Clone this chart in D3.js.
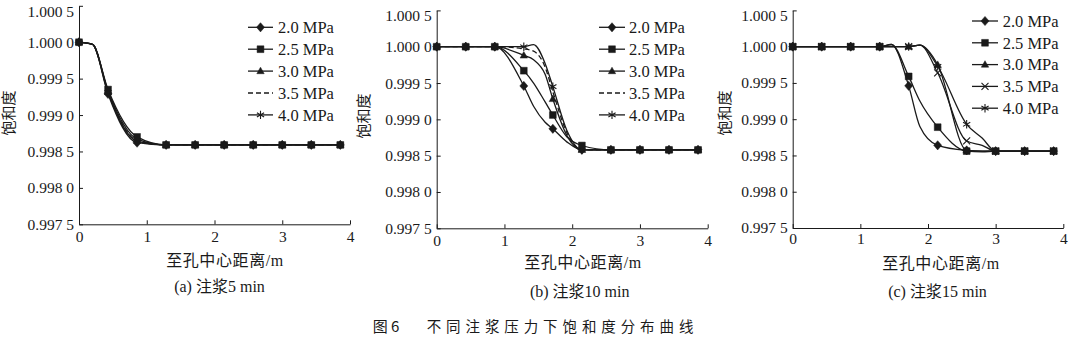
<!DOCTYPE html>
<html><head><meta charset="utf-8">
<script src="https://cdn.jsdelivr.net/npm/d3@7"></script>
<style>
body{margin:0;background:#fff;}
svg{display:block;}
</style></head><body>
<svg id="chart" width="1080" height="339"></svg>
<script>
// ---------- data ----------
const pressures = ["2.0 MPa", "2.5 MPa", "3.0 MPa", "3.5 MPa", "4.0 MPa"];
const xTicks = [0, 1, 2, 3, 4];
const yTicks = [0.9975, 0.998, 0.9985, 0.999, 0.9995, 1.0, 1.0005];
const markerX = [0, 0.4286, 0.8571, 1.2857, 1.7143, 2.1429, 2.5714, 3.0, 3.4286, 3.8571];
const captions = ["(a) 注浆5 min", "(b) 注浆10 min", "(c) 注浆15 min"];
const xTitle = "至孔中心距离/m";
const yTitle = "饱和度";
const figTitleNo = "图 6";
const figTitle = "不同注浆压力下饱和度分布曲线";

// (a) 5 min
const xA = [0, 0.2, 0.4286, 0.8571, 1.2857, 1.7143, 2.1429, 2.5714, 3.0, 3.4286, 3.8571];
const a20 = [1.00000, 0.99997, 0.99929, 0.99862, 0.99859, 0.99859, 0.99859, 0.99859, 0.99859, 0.99859, 0.99859];
const a25 = [1.00000, 0.99997, 0.99935, 0.99870, 0.99859, 0.99859, 0.99859, 0.99859, 0.99859, 0.99859, 0.99859];
const a30 = [1.00000, 0.99997, 0.99933, 0.99867, 0.99859, 0.99859, 0.99859, 0.99859, 0.99859, 0.99859, 0.99859];
const a35 = [1.00000, 0.99997, 0.99932, 0.99865, 0.99859, 0.99859, 0.99859, 0.99859, 0.99859, 0.99859, 0.99859];
const a40 = [1.00000, 0.99997, 0.99931, 0.99864, 0.99859, 0.99859, 0.99859, 0.99859, 0.99859, 0.99859, 0.99859];

// (b) 10 min
const xB = [0, 0.4286, 0.8571, 1.2857, 1.43, 1.6, 1.7143, 1.92, 2.1429, 2.5714, 3.0, 3.4286, 3.8571];
const b20 = [1, 1, 1, 0.99946, 0.99918, 0.99896, 0.99887, 0.99869, 0.99858, 0.99858, 0.99858, 0.99858, 0.99858];
const b25 = [1, 1, 1, 0.99967, 0.99950, 0.99924, 0.99906, 0.99876, 0.99864, 0.99858, 0.99858, 0.99858, 0.99858];
const b30 = [1, 1, 1, 0.99988, 0.99982, 0.99962, 0.99928, 0.99878, 0.99858, 0.99858, 0.99858, 0.99858, 0.99858];
const b35 = [1, 1, 1, 0.99997, 0.99994, 0.99972, 0.99938, 0.99882, 0.99858, 0.99858, 0.99858, 0.99858, 0.99858];
const b40 = [1, 1, 1, 1.00000, 1.00003, 0.99977, 0.99945, 0.99885, 0.99858, 0.99858, 0.99858, 0.99858, 0.99858];

// (c) 15 min
const xC = [0, 0.4286, 0.8571, 1.2857, 1.46, 1.7143, 1.88, 2.1429, 2.5714, 2.8, 3.0, 3.4286, 3.8571];
const c20 = [1, 1, 1, 1, 1.00003, 0.99946, 0.99890, 0.99864, 0.99857, 0.99856, 0.99856, 0.99856, 0.99856];
const c25 = [1, 1, 1, 1, 1.00003, 0.99959, 0.99925, 0.99889, 0.99856, 0.99855, 0.99856, 0.99856, 0.99856];
const c30 = [1, 1, 1, 1, 1, 1, 1.00002, 0.99975, 0.99857, 0.99856, 0.99856, 0.99856, 0.99856];
const c35 = [1, 1, 1, 1, 1, 1, 1.00002, 0.99964, 0.99870, 0.99864, 0.99856, 0.99856, 0.99856];
const c40 = [1, 1, 1, 1, 1, 1, 1.00002, 0.99973, 0.99893, 0.99874, 0.99856, 0.99856, 0.99856];

// ---------- layout / style ----------
const INK = "#1a1a1a";
const SERIF = "'Liberation Serif','Times New Roman','Noto Sans CJK SC',serif";
const CJK = "'Noto Sans CJK SC','Liberation Serif',sans-serif";

const markersAB = ["diamond", "square", "triangle", null, "asterisk"];
const markersC = ["diamond", "square", "triangle", "cross", "asterisk"];
const dashAB = [null, null, null, "5,3", null];
const dashC = [null, null, null, null, null];

const panels = [
  {xs: xA, ys: [a20, a25, a30, a35, a40], x0: 79, x1: 350, yTop: 5.8, yBot: 224.3, xPad: 7,
   ylab: [9, 113], xlab: [225, 260], cap: [219.5, 286.7],
   leg: {l0: 248, l1: 273, tx: 278, y0: 27.3, dy: 21.9}, markers: markersAB, dash: dashAB},
  {xs: xB, ys: [b20, b25, b30, b35, b40], x0: 436.7, x1: 707.7, yTop: 10.4, yBot: 228.3, xPad: 7,
   ylab: [364, 116], xlab: [583, 262.3], cap: [579.7, 291.7],
   leg: {l0: 599, l1: 625, tx: 629, y0: 27.3, dy: 21.9}, markers: markersAB, dash: dashAB},
  {xs: xC, ys: [c20, c25, c30, c35, c40], x0: 792.7, x1: 1063.3, yTop: 10.4, yBot: 228.0, xPad: 4.5,
   ylab: [725, 113], xlab: [941, 262.5], cap: [937.5, 291.5],
   leg: {l0: 972, l1: 998, tx: 1002.7, y0: 21, dy: 21.8}, markers: markersC, dash: dashC}
];

function markerPath(t) {
  switch (t) {
    case "diamond": return "M0,-4.6L4,0L0,4.6L-4,0Z";
    case "square": return "M-3.4,-3.4h6.8v6.8h-6.8Z";
    case "triangle": return "M0,-3.9L3.7,2.6L-3.7,2.6Z";
    case "cross": return "M-3.5,-3.5L3.5,3.5M-3.5,3.5L3.5,-3.5";
    case "asterisk": return "M0,-4.2V4.2M-3.6,-2.1L3.6,2.1M-3.6,2.1L3.6,-2.1";
  }
  return null;
}
const filled = t => t === "diamond" || t === "square" || t === "triangle";

const svg = d3.select("#chart");
const fmtY = d => { const s = d3.format(".4f")(d); return s.slice(0, -1) + " " + s.slice(-1); };

panels.forEach((p, pi) => {
  const x = d3.scaleLinear().domain([0, 4]).range([p.x0, p.x1]);
  const y = d3.scaleLinear().domain([0.9975, 1.0005]).range([p.yBot, p.yTop]);
  const g = svg.append("g");

  // axes
  const ax = g.append("g").attr("transform", `translate(0,${p.yBot})`)
    .call(d3.axisBottom(x).tickValues(xTicks).tickFormat(d3.format("d"))
      .tickSizeInner(-4).tickSizeOuter(0).tickPadding(p.xPad));
  const ay = g.append("g").attr("transform", `translate(${p.x0},0)`)
    .call(d3.axisLeft(y).tickValues(yTicks).tickFormat(fmtY)
      .tickSizeInner(-4).tickSizeOuter(0).tickPadding(5));
  [ax, ay].forEach(a => {
    a.select(".domain").attr("stroke", INK).attr("stroke-width", 1);
    a.selectAll(".tick line").attr("stroke", INK).attr("stroke-width", 1);
    a.selectAll(".tick text").attr("fill", INK).style("font-family", SERIF).style("font-size", "15.5px");
  });
  ay.selectAll(".tick text").filter(d => d === 1.0005).attr("dy", "0.68em");

  // lines
  const line = d3.line().x(d => x(d.x)).y(d => y(d.y)).curve(d3.curveMonotoneX);
  p.ys.forEach((vals, si) => {
    const pts = p.xs.map((xv, i) => ({x: xv, y: vals[i]}));
    g.append("path").datum(pts).attr("d", line)
      .attr("fill", "none").attr("stroke", INK).attr("stroke-width", 1.3)
      .attr("stroke-dasharray", p.dash[si]);
    const mt = p.markers[si];
    if (mt) {
      g.append("g").selectAll("path").data(pts.filter(d => markerX.includes(d.x))).join("path")
        .attr("transform", d => `translate(${x(d.x)},${y(d.y)})`)
        .attr("d", markerPath(mt))
        .attr("fill", filled(mt) ? INK : "none")
        .attr("stroke", INK).attr("stroke-width", filled(mt) ? 0.5 : 1.1);
    }
  });

  // legend
  pressures.forEach((name, si) => {
    const ly = p.leg.y0 + si * p.leg.dy;
    g.append("line").attr("x1", p.leg.l0).attr("x2", p.leg.l1).attr("y1", ly).attr("y2", ly)
      .attr("stroke", INK).attr("stroke-width", 1.3).attr("stroke-dasharray", p.dash[si]);
    const mt = p.markers[si];
    if (mt) {
      g.append("path").attr("transform", `translate(${(p.leg.l0 + p.leg.l1) / 2},${ly})`)
        .attr("d", markerPath(mt)).attr("fill", filled(mt) ? INK : "none")
        .attr("stroke", INK).attr("stroke-width", filled(mt) ? 0.5 : 1.1);
    }
    g.append("text").attr("x", p.leg.tx).attr("y", ly).attr("dy", "0.35em")
      .attr("fill", INK).style("font-family", SERIF).style("font-size", "16.5px").text(name);
  });

  // titles
  g.append("text").attr("transform", `translate(${p.ylab[0]},${p.ylab[1]}) rotate(-90)`)
    .attr("text-anchor", "middle").attr("dy", "0.35em").attr("fill", INK)
    .style("font-family", SERIF).style("font-size", "15px").text(yTitle);
  g.append("text").attr("x", p.xlab[0]).attr("y", p.xlab[1]).attr("dy", "0.38em")
    .attr("text-anchor", "middle").attr("fill", INK)
    .style("font-family", SERIF).style("font-size", "16px").style("letter-spacing", "0.6px").text(xTitle);
  g.append("text").attr("x", p.cap[0]).attr("y", p.cap[1]).attr("dy", "0.36em")
    .attr("text-anchor", "middle").attr("fill", INK)
    .style("font-family", SERIF).style("font-size", "16px").text(captions[pi]);
});

// figure title
svg.append("text").attr("x", 372.7).attr("y", 326.7).attr("dy", "0.36em").attr("fill", INK)
  .style("font-family", CJK).style("font-size", "15px").text(figTitleNo);
svg.append("text").attr("x", 426.7).attr("y", 326.7).attr("dy", "0.36em").attr("fill", INK)
  .style("font-family", CJK).style("font-size", "14.5px").style("letter-spacing", "4.9px").text(figTitle);
</script></body></html>
